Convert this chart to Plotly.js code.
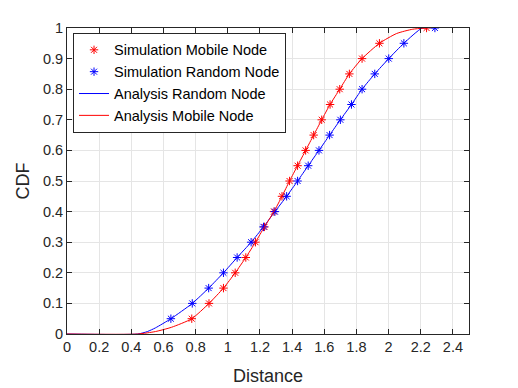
<!DOCTYPE html>
<html>
<head>
<meta charset="utf-8">
<script src="https://cdn.plot.ly/plotly-3.0.1.min.js"></script>
<style>
  body { margin: 0; background: #ffffff; }
  #cdf { width: 518px; height: 388px; }
</style>
</head>
<body>
<div id="cdf"></div>
<script>
// simulated points
var simMobileX = [0.776, 0.883, 0.973, 1.046, 1.112, 1.172, 1.228, 1.287, 1.337, 1.384,
                  1.434, 1.484, 1.534, 1.584, 1.636, 1.696, 1.756, 1.835, 1.943, 2.236];
var simMobileY = [0.05, 0.1, 0.15, 0.2, 0.25, 0.3, 0.35, 0.4, 0.45, 0.5,
                  0.55, 0.6, 0.65, 0.7, 0.75, 0.8, 0.85, 0.9, 0.95, 1];

var simRandomX = [0.646, 0.779, 0.881, 0.973, 1.058, 1.145, 1.222, 1.293, 1.366, 1.434,
                  1.5, 1.567, 1.633, 1.7, 1.769, 1.835, 1.914, 2.001, 2.095, 2.288];
var simRandomY = [0.05, 0.1, 0.15, 0.2, 0.25, 0.3, 0.35, 0.4, 0.45, 0.5,
                  0.55, 0.6, 0.65, 0.7, 0.75, 0.8, 0.85, 0.9, 0.95, 1];

// analysis curves
var anaRandomX = [0, 0.44, 0.5, 0.55, 0.646, 0.779, 0.881, 0.973, 1.058, 1.145, 1.222, 1.293,
                  1.366, 1.434, 1.5, 1.567, 1.633, 1.7, 1.769, 1.835, 1.914, 2.001, 2.095, 2.21, 2.29];
var anaRandomY = [0, 0, 0.008, 0.02, 0.05, 0.1, 0.15, 0.2, 0.25, 0.3, 0.35, 0.4,
                  0.45, 0.5, 0.55, 0.6, 0.65, 0.7, 0.75, 0.8, 0.85, 0.9, 0.95, 1, 1];

var anaMobileX = [0, 0.44, 0.55, 0.65, 0.776, 0.883, 0.973, 1.046, 1.112, 1.172, 1.228, 1.287,
                  1.337, 1.384, 1.434, 1.484, 1.534, 1.584, 1.636, 1.696, 1.756, 1.835, 1.943,
                  2.05, 2.15, 2.236];
var anaMobileY = [0, 0, 0.008, 0.022, 0.05, 0.1, 0.15, 0.2, 0.25, 0.3, 0.35, 0.4,
                  0.45, 0.5, 0.55, 0.6, 0.65, 0.7, 0.75, 0.8, 0.85, 0.9, 0.95,
                  0.982, 0.996, 1];

var red = '#ff0000';
var blue = '#0000ff';
var font = 'Liberation Sans, Arial, sans-serif';

var data = [
  {
    x: simMobileX, y: simMobileY, mode: 'markers', type: 'scatter',
    name: 'Simulation Mobile Node',
    marker: { symbol: 'asterisk-open', size: 7, color: red, line: { color: red, width: 1 } }
  },
  {
    x: simRandomX, y: simRandomY, mode: 'markers', type: 'scatter',
    name: 'Simulation Random Node',
    marker: { symbol: 'asterisk-open', size: 7, color: blue, line: { color: blue, width: 1 } }
  },
  {
    x: anaRandomX, y: anaRandomY, mode: 'lines', type: 'scatter',
    name: 'Analysis Random Node',
    line: { color: blue, width: 1, shape: 'spline', smoothing: 0.6 }
  },
  {
    x: anaMobileX, y: anaMobileY, mode: 'lines', type: 'scatter',
    name: 'Analysis Mobile Node',
    line: { color: red, width: 1, shape: 'spline', smoothing: 0.6 }
  }
];

var axisCommon = {
  showline: true,
  linecolor: '#262626',
  linewidth: 1,
  mirror: 'ticks',
  ticks: 'inside',
  ticklen: 5,
  tickcolor: '#262626',
  showgrid: true,
  gridcolor: '#e5e5e5',
  zeroline: false,
  tickfont: { family: font, size: 14.5, color: '#262626' }
};

var layout = {
  width: 518,
  height: 388,
  margin: { l: 67, r: 49, t: 28, b: 54 },
  paper_bgcolor: '#ffffff',
  plot_bgcolor: '#ffffff',
  showlegend: true,
  xaxis: Object.assign({}, axisCommon, {
    range: [0, 2.5],
    tickvals: [0, 0.2, 0.4, 0.6, 0.8, 1, 1.2, 1.4, 1.6, 1.8, 2, 2.2, 2.4],
    ticktext: ['0', '0.2', '0.4', '0.6', '0.8', '1', '1.2', '1.4', '1.6', '1.8', '2', '2.2', '2.4'],
    title: { text: 'Distance', font: { family: font, size: 18, color: '#262626' }, standoff: 14 }
  }),
  yaxis: Object.assign({}, axisCommon, {
    range: [0, 1],
    tickvals: [0, 0.1, 0.2, 0.3, 0.4, 0.5, 0.6, 0.7, 0.8, 0.9, 1],
    ticktext: ['0', '0.1', '0.2', '0.3', '0.4', '0.5', '0.6', '0.7', '0.8', '0.9', '1'],
    title: { text: 'CDF', font: { family: font, size: 18, color: '#262626' }, standoff: 8 }
  }),
  legend: {
    x: 0.015,
    y: 0.984,
    xanchor: 'left',
    yanchor: 'top',
    bgcolor: '#ffffff',
    bordercolor: '#262626',
    borderwidth: 1,
    font: { family: font, size: 14.5, color: '#000000' },
    tracegroupgap: 0
  }
};

Plotly.newPlot('cdf', data, layout, { displayModeBar: false, staticPlot: true });
</script>
</body>
</html>
